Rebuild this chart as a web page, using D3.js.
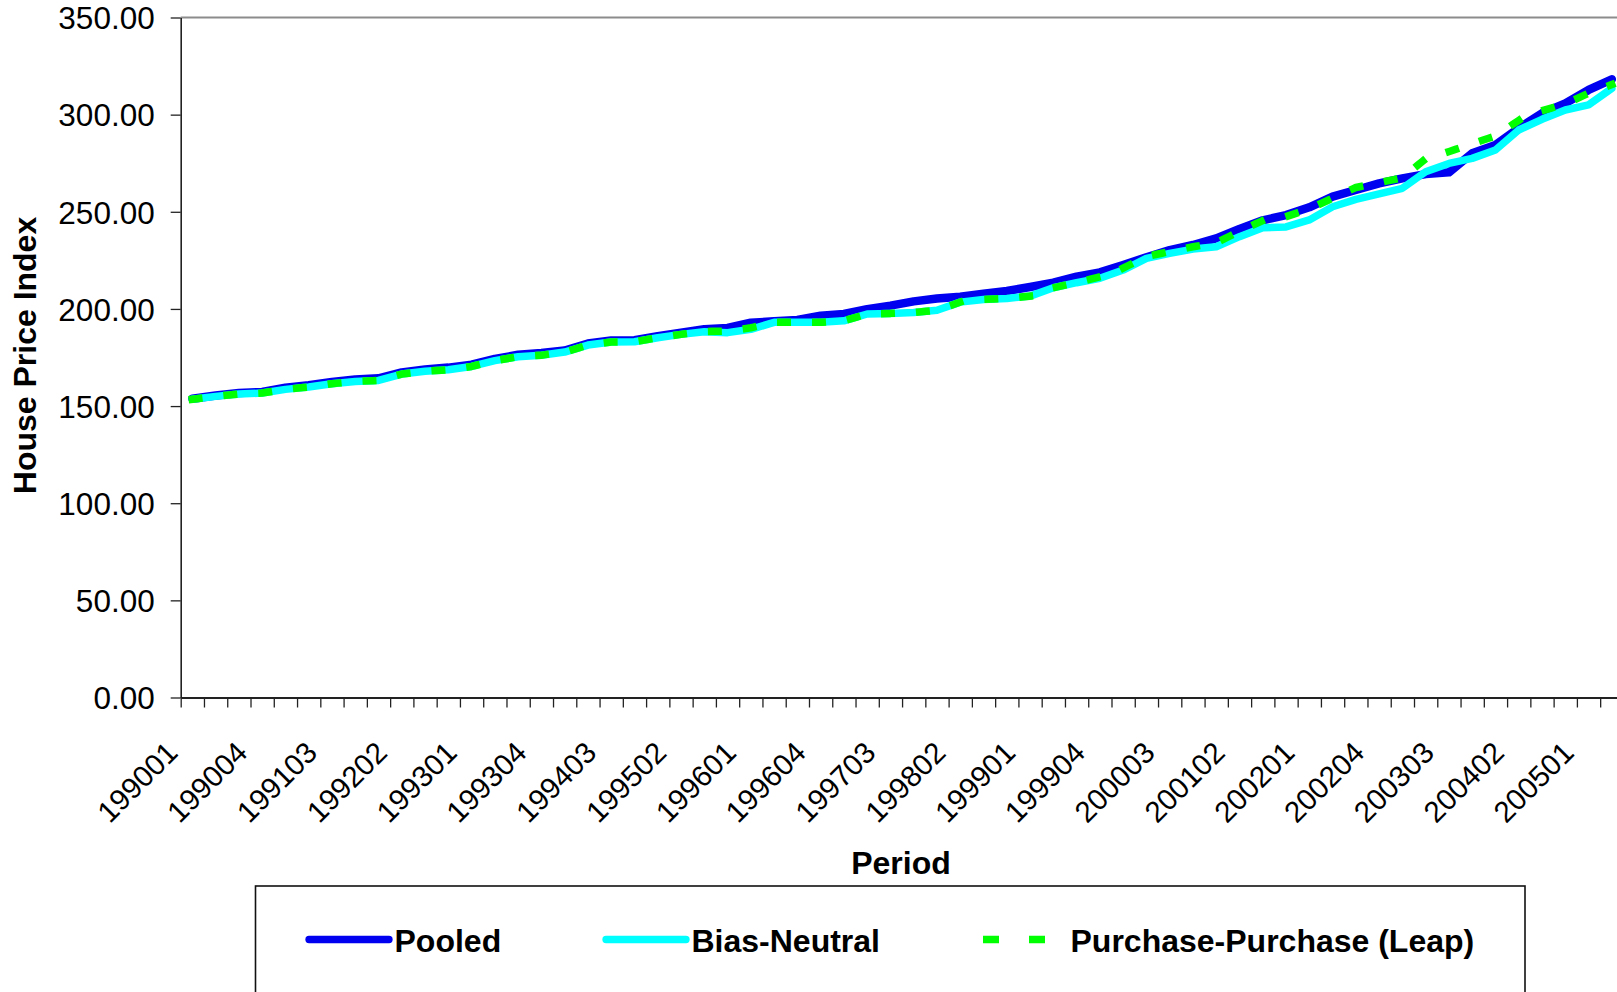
<!DOCTYPE html>
<html>
<head>
<meta charset="utf-8">
<script src="https://cdn.jsdelivr.net/npm/d3@7"></script>
<style>
  html, body { margin: 0; padding: 0; background: #fff; }
  svg { display: block; font-family: "Liberation Sans", Arial, sans-serif; }
</style>
</head>
<body>
<svg id="chart" width="1617" height="992"></svg>
<script>
// Quarterly periods (YYYY0Q)
const periods = [
  "199001","199002","199003","199004","199101","199102","199103","199104",
  "199201","199202","199203","199204","199301","199302","199303","199304",
  "199401","199402","199403","199404","199501","199502","199503","199504",
  "199601","199602","199603","199604","199701","199702","199703","199704",
  "199801","199802","199803","199804","199901","199902","199903","199904",
  "200001","200002","200003","200004","200101","200102","200103","200104",
  "200201","200202","200203","200204","200301","200302","200303","200304",
  "200401","200402","200403","200404","200501","200502"
];

// Labelled categories on the period axis
const periodLabels = [
  "199001","199004","199103","199202","199301","199304","199403","199502",
  "199601","199604","199703","199802","199901","199904","200003","200102",
  "200201","200204","200303","200402","200501"
];

const yTicks = [0, 50, 100, 150, 200, 250, 300, 350];

// Index values per period
const pooled = [
  153.8,155.4,156.7,157.3,159.4,160.7,162.4,163.7,164.3,167.3,
  168.8,169.8,171.3,174.3,176.4,177.3,178.6,182.2,183.8,183.9,
  186.0,187.8,189.6,190.2,192.9,193.6,194.3,196.5,197.4,199.9,
  201.7,203.9,205.4,206.3,207.8,209.2,211.3,213.5,216.6,218.8,
  222.6,226.6,230.3,232.9,236.3,241.2,245.6,248.3,252.3,257.8,
  261.2,264.6,267.2,269.4,270.3,280.1,284.4,293.0,300.7,305.8,
  312.7,318.2
];

const biasNeutral = [
  153.5,155.0,156.2,156.7,158.6,159.8,161.5,162.7,163.2,166.5,
  167.9,168.7,170.4,173.4,175.4,176.2,177.8,181.4,183.0,183.1,
  185.2,186.9,188.3,187.8,189.5,193.1,193.2,193.1,193.9,197.4,
  197.7,198.2,199.3,203.5,204.9,205.4,206.6,210.9,213.5,215.8,
  220.0,226.0,228.6,230.8,232.0,237.2,241.8,242.2,245.8,252.6,
  256.4,259.2,262.1,270.6,274.9,277.5,281.8,292.1,297.6,302.4,
  305.0,313.5
];

const purchasePurchase = [
  153.5,155.0,156.2,156.7,158.6,159.8,161.5,162.7,163.2,166.5,
  167.9,168.7,170.4,173.4,175.4,176.2,177.8,181.4,183.0,183.1,
  185.2,186.9,188.4,188.6,190.3,193.1,193.2,193.1,193.9,197.4,
  197.7,198.2,199.3,203.5,204.9,205.4,206.6,210.9,213.5,216.5,
  221.0,227.0,229.5,232.0,234.0,240.0,245.5,247.5,251.5,257.0,
  262.5,265.0,267.5,277.3,281.0,285.0,289.0,297.0,302.0,305.5,
  311.0,315.5
];

const svg = d3.select("#chart");

const plotLeft = 180.7, plotTop = 17.5, plotBottom = 697.5;
const step = 23.27;
const plotRight = plotLeft + periods.length * step;

const x = d3.scaleBand().domain(periods).range([plotLeft, plotRight]).padding(0);
const xEdge = d3.scaleLinear().domain([0, periods.length]).range([plotLeft, plotRight]);
const y = d3.scaleLinear().domain([0, 350]).range([plotBottom, plotTop]);

const font = 32;
const catFont = 29.5;

// Plot-area border (top / right)
svg.append("path")
  .attr("d", `M${plotLeft},${plotTop}H${plotRight}V${plotBottom}`)
  .attr("fill", "none").attr("stroke", "#8c8c8c").attr("stroke-width", 2);

// Y axis
const yAxis = svg.append("g")
  .attr("transform", `translate(${plotLeft},0)`)
  .call(d3.axisLeft(y).tickValues(yTicks).tickFormat(d3.format(".2f")).tickSize(10).tickSizeOuter(0));
yAxis.select(".domain").attr("stroke", "#222").attr("stroke-width", 1.6);
yAxis.selectAll(".tick line").attr("stroke", "#222").attr("stroke-width", 1.3);
yAxis.selectAll(".tick text")
  .attr("font-size", 31.5).attr("fill", "#000")
  .attr("x", -26).attr("dy", "0.36em");

// X axis: tick marks at category boundaries
const xTicks = svg.append("g")
  .attr("transform", `translate(0,${plotBottom})`)
  .call(d3.axisBottom(xEdge).tickValues(d3.range(0, periods.length + 1)).tickFormat("").tickSize(10).tickSizeOuter(0));
xTicks.select(".domain").attr("stroke", "#222").attr("stroke-width", 1.8);
xTicks.selectAll(".tick line").attr("stroke", "#222").attr("stroke-width", 1.3);

// X axis: category labels, rotated
const xLabels = svg.append("g")
  .attr("transform", `translate(0,${plotBottom})`)
  .call(d3.axisBottom(x).tickValues(periodLabels).tickSize(0));
xLabels.select(".domain").remove();
xLabels.selectAll(".tick text")
  .attr("font-size", catFont).attr("fill", "#000")
  .attr("text-anchor", "end")
  .attr("y", 0).attr("dy", "0.36em")
  .attr("transform", "translate(-20.5,49.5) rotate(-45)");

// Axis titles
svg.append("text")
  .attr("transform", `translate(36,355.5) rotate(-90)`)
  .attr("text-anchor", "middle")
  .attr("font-size", font).attr("font-weight", "bold")
  .text("House Price Index");

svg.append("text")
  .attr("x", 901).attr("y", 874.3)
  .attr("text-anchor", "middle")
  .attr("font-size", font).attr("font-weight", "bold")
  .text("Period");

// Series lines
const series = [
  { name: "Pooled", values: pooled, color: "#0000f0", width: 8.5, dash: null, cap: "round" },
  { name: "Bias-Neutral", values: biasNeutral, color: "#00ffff", width: 7.5, dash: null, cap: "round" },
  { name: "Purchase-Purchase (Leap)", values: purchasePurchase, color: "#00ff00", width: 7.5, dash: "6.5,28.5", cap: "square" }
];

const line = d3.line()
  .x((d, i) => x(periods[i]) + x.bandwidth() / 2)
  .y(d => y(d));

series.forEach(s => {
  svg.append("path")
    .datum(s.values)
    .attr("d", line)
    .attr("fill", "none")
    .attr("stroke", s.color)
    .attr("stroke-width", s.width)
    .attr("stroke-linejoin", "round")
    .attr("stroke-linecap", s.cap)
    .attr("stroke-dasharray", s.dash);
});

// Legend
const legend = svg.append("g");
legend.append("rect")
  .attr("x", 255.5).attr("y", 886).attr("width", 1269.5).attr("height", 140)
  .attr("fill", "#fff").attr("stroke", "#111").attr("stroke-width", 1.6);

const legendItems = [
  { s: series[0], x1: 309, x2: 389, tx: 394.5, dash: null, cap: "round", w: 7.3 },
  { s: series[1], x1: 606, x2: 686, tx: 691.5, dash: null, cap: "round", w: 7.3 },
  { s: series[2], x1: 983, x2: 1063, tx: 1070.5, dash: "16,30", cap: "butt", w: 7.3 }
];
legendItems.forEach(it => {
  legend.append("line")
    .attr("x1", it.x1).attr("x2", it.x2).attr("y1", 939.5).attr("y2", 939.5)
    .attr("stroke", it.s.color).attr("stroke-width", it.w)
    .attr("stroke-linecap", it.cap)
    .attr("stroke-dasharray", it.dash);
  legend.append("text")
    .attr("x", it.tx).attr("y", 952.3)
    .attr("font-size", font).attr("font-weight", "bold")
    .text(it.s.name);
});
</script>
</body>
</html>
